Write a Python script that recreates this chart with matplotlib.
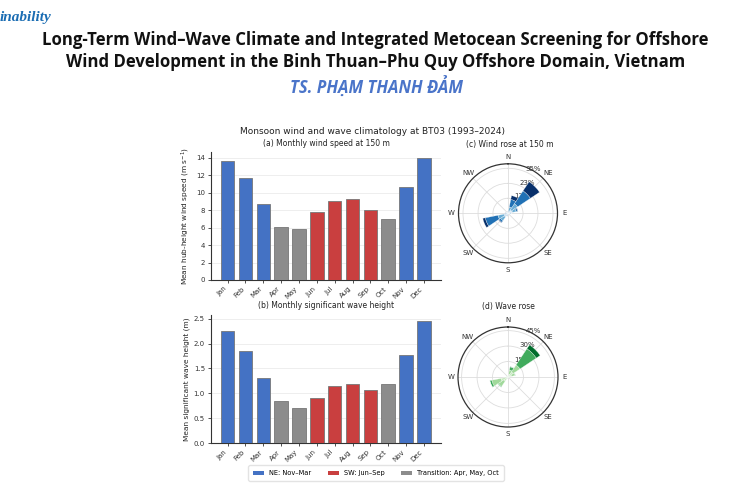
import numpy as np
import matplotlib
matplotlib.use("Agg")
import matplotlib.pyplot as plt

# Monthly climatology at BT03
months = ["Jan", "Feb", "Mar", "Apr", "May", "Jun", "Jul", "Aug", "Sep", "Oct", "Nov", "Dec"]
wind_speed = [13.6, 11.7, 8.7, 6.1, 5.8, 7.8, 9.1, 9.3, 8.0, 7.0, 10.6, 14.0]
wave_height = [2.25, 1.85, 1.30, 0.85, 0.71, 0.91, 1.14, 1.18, 1.07, 1.19, 1.77, 2.45]
season = ["NE", "NE", "NE", "TR", "TR", "SW", "SW", "SW", "SW", "TR", "NE", "NE"]

season_colors = {"NE": "#4472c4", "SW": "#c93f3f", "TR": "#8c8c8c"}
season_labels = {"NE": "NE: Nov\u2013Mar", "SW": "SW: Jun\u2013Sep", "TR": "Transition: Apr, May, Oct"}

# Rose data: 16 sectors, 4 classes each (percent of time)
directions = ["N", "NNE", "NE", "ENE", "E", "ESE", "SE", "SSE",
              "S", "SSW", "SW", "WSW", "W", "WNW", "NW", "NNW"]
wind_bin1 = [0.5, 1.5, 3.0, 3.5, 1.5, 0.5, 0.4, 0.4, 0.5, 1.0, 3.5, 3.0, 1.0, 0.5, 0.4, 0.4]
wind_bin2 = [0.4, 3.5, 6.0, 3.0, 0.8, 0.2, 0.1, 0.1, 0.3, 0.8, 3.5, 5.0, 0.8, 0.3, 0.1, 0.2]
wind_bin3 = [0.3, 6.0, 12.0, 1.2, 0.2, 0.1, 0.0, 0.0, 0.1, 0.4, 1.5, 10.0, 0.4, 0.1, 0.0, 0.1]
wind_bin4 = [0.2, 3.0, 8.5, 0.3, 0.0, 0.0, 0.0, 0.0, 0.0, 0.1, 0.5, 2.0, 0.2, 0.0, 0.0, 0.0]

wave_bin1 = [0.3, 3.0, 6.0, 3.5, 1.0, 0.3, 0.2, 0.2, 0.3, 1.0, 5.0, 7.0, 1.0, 0.3, 0.2, 0.2]
wave_bin2 = [0.2, 4.0, 8.0, 3.5, 0.5, 0.1, 0.0, 0.0, 0.1, 0.8, 6.0, 9.0, 0.5, 0.1, 0.0, 0.1]
wave_bin3 = [0.1, 3.0, 19.0, 0.5, 0.1, 0.0, 0.0, 0.0, 0.0, 0.2, 1.0, 2.0, 0.1, 0.0, 0.0, 0.0]
wave_bin4 = [0.0, 0.3, 4.5, 0.0, 0.0, 0.0, 0.0, 0.0, 0.0, 0.0, 0.0, 0.0, 0.0, 0.0, 0.0, 0.0]

wind_colors = ["#c6dbef", "#6baed6", "#2171b5", "#08306b"]
wave_colors = ["#c7e9c0", "#a1d99b", "#41ab5d", "#006d2c"]

wind_rticks = [11.7, 23.3, 35.0]
wind_rlabels = ["12%", "23%", "35%"]
wave_rticks = [15, 30, 45]
wave_rlabels = ["15%", "30%", "45%"]

compass = ["N", "NE", "E", "SE", "S", "SW", "W", "NW"]

W, H = 750, 500
fig = plt.figure(figsize=(7.5, 5), dpi=100)


def box(l, t, r, b):
    # pixel box -> figure fraction
    return [l / W, 1 - b / H, (r - l) / W, (b - t) / H]


def ptxt(x, y, s, **kw):
    fig.text(x / W, 1 - y / H, s, ha=kw.pop("ha", "center"), va=kw.pop("va", "center"), **kw)


# ---- page header ----
ptxt(0, 18, "inability", ha="left", family="Liberation Serif", style="italic",
     weight="bold", color="#1b6db3", size=11)
ptxt(375, 40, "Long-Term Wind\u2013Wave Climate and Integrated Metocean Screening for Offshore",
     family=["Open Sans", "DejaVu Sans"], weight="bold", size=12.1, color="#111111")
ptxt(376, 62, "Wind Development in the Binh Thuan\u2013Phu Quy Offshore Domain, Vietnam",
     family=["Open Sans", "DejaVu Sans"], weight="bold", size=12.1, color="#111111")
ptxt(376, 87, "TS. PH\u1ea0M THANH \u0110\u1ea2M", family=["Open Sans", "DejaVu Sans"],
     style="italic", weight="bold", size=12, color="#4a74c9")

# ---- figure titles ----
ptxt(373, 131, "Monsoon wind and wave climatology at BT03 (1993\u20132024)", size=6.5, color="#222222")
ptxt(326, 144, "(a) Monthly wind speed at 150 m", size=5.5, color="#222222")
ptxt(326, 306, "(b) Monthly significant wave height", size=5.5, color="#222222")
ptxt(510, 145, "(c) Wind rose at 150 m", size=5.5, color="#222222")
ptxt(508, 307, "(d) Wave rose", size=5.5, color="#222222")

# ---- monthly bar charts ----
ax_a = fig.add_axes(box(210.5, 151.7, 441, 280))
ax_b = fig.add_axes(box(210.5, 315, 441, 443.3))

x = np.arange(len(months))
bar_colors = [season_colors[s] for s in season]

for ax, vals, ylab in [(ax_a, wind_speed, "Mean hub-height wind speed (m s$^{-1}$)"),
                       (ax_b, wave_height, "Mean significant wave height (m)")]:
    ax.bar(x, vals, width=0.75, color=bar_colors, edgecolor="#777777", linewidth=0.6, zorder=3)
    ax.set_xticks(x)
    ax.set_xticklabels(months, rotation=45, ha="right", rotation_mode="default")
    ax.set_ylabel(ylab, size=5.3, color="#222222", labelpad=3)
    ax.yaxis.grid(True, color="#ebebeb", linewidth=0.6, zorder=0)
    ax.set_axisbelow(True)
    for sp in ["top", "right"]:
        ax.spines[sp].set_visible(False)
    for sp in ["left", "bottom"]:
        ax.spines[sp].set_color("#333333")
        ax.spines[sp].set_linewidth(0.8)
    ax.tick_params(labelsize=5, length=2.5, width=0.6, pad=1.5, colors="#333333")

ax_a.set_yticks([0, 2, 4, 6, 8, 10, 12, 14])
ax_b.set_yticks([0.0, 0.5, 1.0, 1.5, 2.0, 2.5])

# legend under the bars
handles = [plt.Rectangle((0, 0), 1, 1, facecolor=season_colors[k]) for k in ["NE", "SW", "TR"]]
fig.legend(handles, [season_labels[k] for k in ["NE", "SW", "TR"]], loc="center",
           bbox_to_anchor=(376 / W, 1 - 473 / H), ncol=3, fontsize=4.8, frameon=True,
           handlelength=1.65, handleheight=0.6, handletextpad=0.75, columnspacing=2.5,
           edgecolor="#dddddd", borderpad=0.7)

# ---- roses ----
ax_c = fig.add_axes(box(508 - 49.5, 213.3 - 49.5, 508 + 49.5, 213.3 + 49.5), projection="polar")
ax_d = fig.add_axes(box(508 - 50, 377 - 50, 508 + 50, 377 + 50), projection="polar")

theta = np.deg2rad(np.arange(len(directions)) * 22.5)
sector_w = np.deg2rad(22.5)

for ax, bins, cols, rt, rl, rmax in [
        (ax_c, [wind_bin1, wind_bin2, wind_bin3, wind_bin4], wind_colors, wind_rticks, wind_rlabels, 38.5),
        (ax_d, [wave_bin1, wave_bin2, wave_bin3, wave_bin4], wave_colors, wave_rticks, wave_rlabels, 48.5)]:
    ax.set_theta_zero_location("N")
    ax.set_theta_direction(-1)
    bottom = np.zeros(len(directions))
    for vals, c in zip(bins, cols):
        ax.bar(theta, vals, width=sector_w, bottom=bottom, color=c, edgecolor="white",
               linewidth=0.2, zorder=3)
        bottom = bottom + np.array(vals)
    ax.set_ylim(0, rmax)
    ax.set_xticks(np.deg2rad(np.arange(0, 360, 45)))
    ax.set_xticklabels(compass)
    ax.set_yticks(rt)
    ax.set_yticklabels(rl)
    ax.set_rlabel_position(22.5)
    ax.tick_params(axis="x", labelsize=5, pad=-5.5, colors="#333333")
    ax.tick_params(axis="y", labelsize=5, colors="#333333")
    ax.grid(True, color="#dddddd", linewidth=0.6)
    ax.spines["polar"].set_color("#333333")
    ax.spines["polar"].set_linewidth(0.9)

fig.savefig("out.png", dpi=100)
